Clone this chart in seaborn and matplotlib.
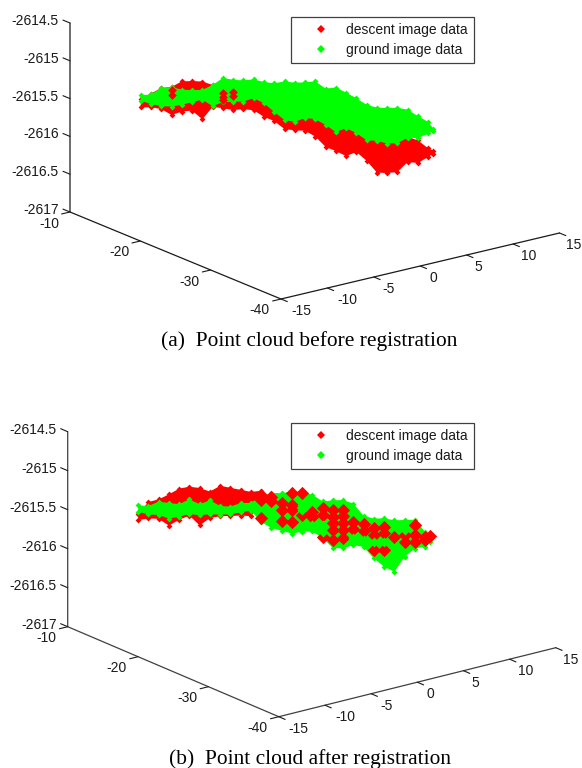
"""
Point cloud before and after registration, drawn as two oblique 3D views.
"""

import numpy as np
import pandas as pd
import matplotlib
matplotlib.use("Agg")
import matplotlib.pyplot as plt
from matplotlib.lines import Line2D
import seaborn as sns


RED = "#ff0000"
GREEN = "#00ff00"

X_TICKS = [-15, -10, -5, 0, 5, 10, 15]
Y_TICKS = [-10, -20, -30, -40]
Z_TICKS = [-2614.5, -2615, -2615.5, -2616, -2616.5, -2617]
Z_TICK_LABELS = ["-2614.5", "-2615", "-2615.5", "-2616", "-2616.5", "-2617"]
SERIES = ["descent image data", "ground image data"]

# ground track of the cloud, one (x, y) per column of read-off heights
TRACK_X = [-9.5, -9, -8.5, -8, -7.5, -7, -6.5, -6, -5.5, -5, -4.5, -4, -3.5, -3, -2.5,
           -2, -1.5, -1, -0.5, 0, 0.5, 1, 1.5, 2, 2.5, 3, 3.5, 4, 4.5, 4.75]
TRACK_Y = [-12.8, -13.6, -14.4, -15.2, -16, -16.8, -17.6, -18.4, -19.2, -20, -20.8, -21.6,
           -22.4, -23.2, -24, -24.8, -25.6, -26.4, -27.2, -28, -28.8, -29.6, -30.4, -31.2,
           -32, -32.8, -33.6, -34.4, -35.2, -35.6]

# panel (a), heights of the cloud outlines
A_GREEN_TOP = [-2615.51, -2615.48, -2615.38, -2615.35, -2615.37, -2615.36, -2615.34, -2615.26,
               -2615.15, -2615.16, -2615.15, -2615.12, -2615.14, -2615.14, -2615.10, -2615.10,
               -2615.08, -2615.05, -2615.13, -2615.10, -2615.15, -2615.21, -2615.28, -2615.30,
               -2615.29, -2615.27, -2615.28, -2615.35, -2615.41, -2615.49]
A_GREEN_BOTTOM = [-2615.58, -2615.61, -2615.62, -2615.61, -2615.57, -2615.52, -2615.47, -2615.54,
                  -2615.47, -2615.45, -2615.43, -2615.37, -2615.42, -2615.52, -2615.61, -2615.62,
                  -2615.55, -2615.55, -2615.61, -2615.69, -2615.62, -2615.67, -2615.75, -2615.74,
                  -2615.76, -2615.74, -2615.65, -2615.64, -2615.56, -2615.52]
A_RED_TOP = [-2615.56, -2615.47, -2615.38, -2615.35, -2615.26, -2615.24, -2615.23, -2615.26,
             -2615.40, -2615.39, -2615.37, -2615.33, -2615.35, -2615.44, -2615.54, -2615.54,
             -2615.47, -2615.48, -2615.54, -2615.62, -2615.55, -2615.60, -2615.68, -2615.68,
             -2615.69, -2615.72, -2615.64, -2615.67, -2615.76, -2615.78]
A_RED_BOTTOM = [-2615.67, -2615.65, -2615.66, -2615.72, -2615.66, -2615.63, -2615.73, -2615.55,
                -2615.55, -2615.56, -2615.53, -2615.53, -2615.60, -2615.64, -2615.73, -2615.73,
                -2615.72, -2615.78, -2615.90, -2615.94, -2615.99, -2615.92, -2616.02, -2616.16,
                -2616.15, -2616.12, -2615.97, -2615.97, -2615.87, -2615.82]
# red spots that show through the green on the left
A_SPOT_COLUMN = [3, 3, 8, 8, 8, 9, 9]
A_SPOT_Z = [-2615.39, -2615.46, -2615.35, -2615.40, -2615.44, -2615.32, -2615.37]

# panel (b)
B_RED_TOP = [-2615.61, -2615.44, -2615.39, -2615.31, -2615.22, -2615.18, -2615.18, -2615.21,
             -2615.12, -2615.13, -2615.14, -2615.15, -2615.12]
B_RED_BOTTOM = [-2615.69, -2615.65, -2615.64, -2615.71, -2615.62, -2615.55, -2615.66, -2615.55,
                -2615.51, -2615.49, -2615.47, -2615.46, -2615.30]
B_GREEN_TOP = [-2615.50, -2615.49, -2615.42, -2615.42, -2615.42, -2615.34, -2615.39, -2615.32,
               -2615.38, -2615.37, -2615.31, -2615.29, -2615.19, -2615.13, -2615.12, -2615.08,
               -2615.07, -2615.09, -2615.16, -2615.13, -2615.11, -2615.14, -2615.28, -2615.30,
               -2615.28, -2615.29, -2615.27, -2615.25, -2615.39, -2615.41]
B_GREEN_BOTTOM = [-2615.58, -2615.60, -2615.59, -2615.62, -2615.58, -2615.53, -2615.53, -2615.50,
                  -2615.49, -2615.47, -2615.43, -2615.39, -2615.52, -2615.58, -2615.60, -2615.62,
                  -2615.58, -2615.56, -2615.63, -2615.74, -2615.73, -2615.67, -2615.68, -2615.81,
                  -2615.90, -2615.95, -2615.74, -2615.62, -2615.58, -2615.51]
B_SPOT_COLUMN = [12, 12, 12, 13, 13, 14, 14, 14, 15, 15, 15, 15, 16, 16, 17, 17, 18, 18, 18,
                 19, 19, 19, 19, 19, 20, 20, 20, 20, 20, 21, 21, 22, 22, 23, 23, 23,
                 24, 24, 24, 25, 26, 26, 27, 27, 27, 28, 28, 29]
B_SPOT_Z = [-2615.17, -2615.24, -2615.47, -2615.18, -2615.24, -2615.25, -2615.33, -2615.48,
            -2615.10, -2615.25, -2615.32, -2615.47, -2615.09, -2615.37, -2615.31, -2615.37,
            -2615.25, -2615.33, -2615.61, -2615.25, -2615.34, -2615.42, -2615.51, -2615.64,
            -2615.24, -2615.32, -2615.41, -2615.49, -2615.60, -2615.37, -2615.46, -2615.38,
            -2615.48, -2615.42, -2615.51, -2615.70, -2615.39, -2615.47, -2615.69, -2615.50,
            -2615.46, -2615.55, -2615.32, -2615.45, -2615.53, -2615.45, -2615.49, -2615.44]
# green islands that stay on top of the red in the middle of the cloud
B_ISLAND_COLUMN = [16, 16, 17, 18, 18, 21, 22, 23, 24, 26]
B_ISLAND_Z = [-2615.24, -2615.30, -2615.48, -2615.46, -2615.55, -2615.58, -2615.59, -2615.60,
              -2615.58, -2615.40]

# screen placement of each 3D box: corner at (x=-15, y=-40, z=-2617) and the box edges
VIEW_A = {"corner": (281, 299), "x_edge": (278.5, -66), "y_edge": (-211, -87), "z_edge": -189}
VIEW_B = {"corner": (278.8, 716.7), "x_edge": (277, -69), "y_edge": (-211.1, -90), "z_edge": -195}
# x tick labels sit to the lower right of their ticks
X_LABEL_SHIFT = [20, 20, 15, 13, 12, 16, 14.5]


def project(view, x, y, z):
    """Orthographic view of data values, returned in figure pixels."""
    tx = (np.asarray(x, dtype=float) + 15) / 30
    ty = (np.asarray(y, dtype=float) + 40) / 30
    tz = (np.asarray(z, dtype=float) + 2617) / 2.5
    sx = view["corner"][0] + view["x_edge"][0] * tx + view["y_edge"][0] * ty
    sy = view["corner"][1] + view["x_edge"][1] * tx + view["y_edge"][1] * ty + view["z_edge"] * tz
    return sx, sy


def draw_points(ax, view, x, y, z, color, size, zorder):
    sx, sy = project(view, x, y, z)
    frame = pd.DataFrame({"sx": sx, "sy": sy})
    sns.scatterplot(data=frame, x="sx", y="sy", color=color, marker="D", s=size,
                    linewidth=0, legend=False, zorder=zorder, ax=ax)


def draw_cloud(ax, view, top, bottom, color, zorder):
    """Solid body between the outlines, with diamonds along them for the rough edge."""
    x = TRACK_X[:len(top)]
    y = TRACK_Y[:len(top)]
    sx_top, sy_top = project(view, x, y, top)
    sx_bot, sy_bot = project(view, x, y, bottom)
    ax.fill(np.r_[sx_top, sx_bot[::-1]], np.r_[sy_top, sy_bot[::-1]],
            color=color, linewidth=0, zorder=zorder)
    draw_points(ax, view, x + x, y + y, list(top) + list(bottom), color, 9, zorder)


def draw_spots(ax, view, columns, z, color, size, zorder):
    x = [TRACK_X[i] for i in columns]
    y = [TRACK_Y[i] for i in columns]
    draw_points(ax, view, x, y, z, color, size, zorder)


def draw_box(ax, view, line_color):
    """Three box edges, the ticks and their labels."""
    edge = "#1a1a1a"
    xs, ys = project(view, [15, -15, -15, -15], [-40, -40, -10, -10], [-2617, -2617, -2617, -2614.5])
    ax.plot(xs, ys, color=line_color, lw=0.9, zorder=10)

    for value, shift in zip(X_TICKS, X_LABEL_SHIFT):
        sx, sy = project(view, [value, value], [-40, -39.1], [-2617, -2617])
        sx2, sy2 = 2 * sx[0] - sx[1], 2 * sy[0] - sy[1]
        ax.plot([sx[0], sx2], [sy[0], sy2], color=edge, lw=0.8, zorder=10)
        ax.text(sx[0] + shift, sy[0] + 12, str(value), ha="center", va="center", fontsize=10, color=edge)
    for value in Y_TICKS:
        sx, sy = project(view, [-15, -14.1], [value, value], [-2617, -2617])
        sx2, sy2 = 2 * sx[0] - sx[1], 2 * sy[0] - sy[1]
        ax.plot([sx[0], sx2], [sy[0], sy2], color=edge, lw=0.8, zorder=10)
        ax.text(sx[0] - 11, sy[0] + 11.5, str(value), ha="right", va="center", fontsize=10, color=edge)
    for value, label in zip(Z_TICKS, Z_TICK_LABELS):
        sx, sy = project(view, [-15, -15], [-10, -11], [value, value])
        ax.plot([sx[0], 2 * sx[0] - sx[1]], [sy[0], 2 * sy[0] - sy[1]], color=edge, lw=0.8, zorder=10)
        ax.text(sx[0] - 11, sy[0] - 2, label, ha="right", va="center", fontsize=10, color=edge)


def draw_legend(ax, anchor, marker_size):
    handles = [
        Line2D([], [], linestyle="none", marker="D", color=RED, markersize=marker_size, markeredgewidth=0),
        Line2D([], [], linestyle="none", marker="D", color=GREEN, markersize=marker_size, markeredgewidth=0),
    ]
    legend = ax.legend(handles, SERIES, loc="upper left", bbox_to_anchor=anchor, bbox_transform=ax.transData,
                       fontsize=10, frameon=True, fancybox=False, framealpha=1, edgecolor="#404040",
                       borderpad=0.46, labelspacing=0.42, handlelength=3.5, handletextpad=0.05,
                       borderaxespad=0)
    legend.get_frame().set_linewidth(0.9)
    legend.set_zorder(20)
    for text in legend.get_texts():
        text.set_color("#1a1a1a")


sns.set_theme(style="white")
plt.rcParams["font.family"] = ["Liberation Sans", "DejaVu Sans"]

fig = plt.figure(figsize=(5.82, 7.68), dpi=100)
ax_a = fig.add_axes([0, 0.5, 1, 0.5])
ax_b = fig.add_axes([0, 0, 1, 0.5])
ax_a.set_xlim(0, 582)
ax_a.set_ylim(384, 0)
ax_b.set_xlim(0, 582)
ax_b.set_ylim(768, 384)

# panel (a): green lies above red, with a few red spots on the left
draw_cloud(ax_a, VIEW_A, A_RED_TOP, A_RED_BOTTOM, RED, 2)
draw_cloud(ax_a, VIEW_A, A_GREEN_TOP, A_GREEN_BOTTOM, GREEN, 3)
draw_spots(ax_a, VIEW_A, A_SPOT_COLUMN, A_SPOT_Z, RED, 20, 4)
draw_box(ax_a, VIEW_A, "#1a1a1a")
draw_legend(ax_a, (290.7, 16.7), 3.6)
ax_a.text(309, 341, "(a)  Point cloud before registration", ha="center", va="center",
          fontsize=15.4, family="Liberation Serif", color="black")

# panel (b): the clouds interleave after registration
draw_cloud(ax_b, VIEW_B, B_RED_TOP, B_RED_BOTTOM, RED, 2)
draw_cloud(ax_b, VIEW_B, B_GREEN_TOP, B_GREEN_BOTTOM, GREEN, 3)
draw_spots(ax_b, VIEW_B, B_SPOT_COLUMN, B_SPOT_Z, RED, 46, 4)
draw_spots(ax_b, VIEW_B, B_ISLAND_COLUMN, B_ISLAND_Z, GREEN, 26, 5)
draw_box(ax_b, VIEW_B, "#404040")
draw_legend(ax_b, (290.7, 422.7), 4.2)
ax_b.text(310, 759, "(b)  Point cloud after registration", ha="center", va="center",
          fontsize=15.4, family="Liberation Serif", color="black")

for ax in (ax_a, ax_b):
    ax.set_xlabel("")
    ax.set_ylabel("")
    ax.axis("off")

plt.savefig("out.png", dpi=100)
plt.close()
